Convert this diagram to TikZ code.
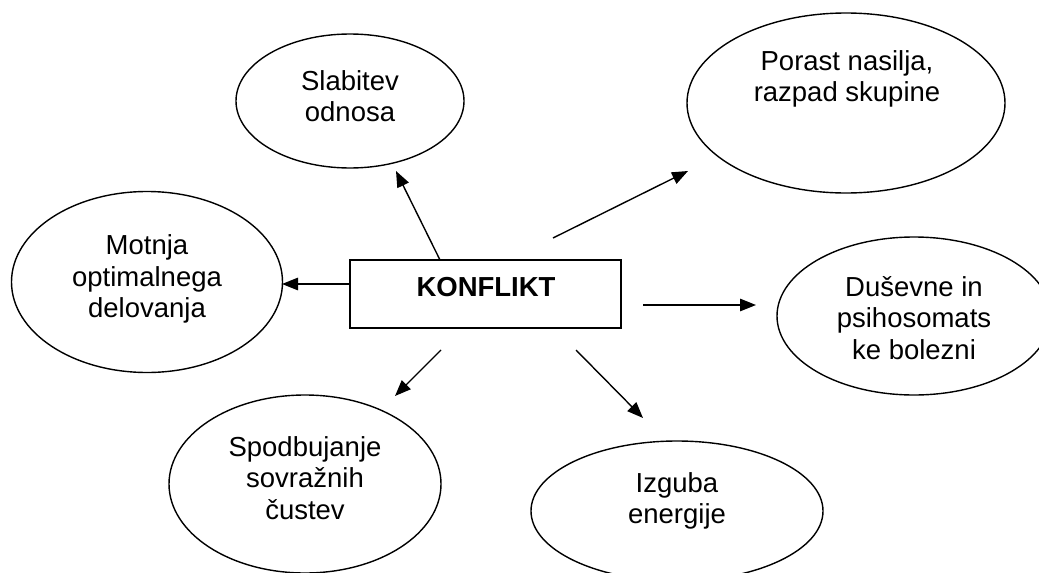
\documentclass[tikz,border=0pt]{standalone}
\usepackage{fontspec}
\setmainfont{Liberation Sans}
\usetikzlibrary{shapes.geometric,arrows.meta}
\begin{document}
\begin{tikzpicture}[x=1pt,y=-1pt,
  bubble/.style={draw,line width=1.4pt,ellipse,inner sep=0pt},
  txt/.style={align=center,font=\fontsize{27.5}{31.5}\selectfont,inner sep=0pt},
  box/.style={draw,line width=1.4pt,rectangle,inner sep=0pt},
  arr/.style={line width=1.4pt,-{Triangle[length=16pt,width=12.5pt]}}]
\useasboundingbox (0,0) rectangle (1039,573);
% ellipses
\node[bubble,minimum width=228pt,minimum height=134pt] (slab) at (350,101) {};
\node[txt] (slabt) at (350,96) {Slabitev\\odnosa};
\node[bubble,minimum width=318pt,minimum height=180pt] (por) at (846,103) {};
\node[txt] (port) at (847,79) {Porast nasilja,\\razpad skupine};
\node[bubble,minimum width=271pt,minimum height=181pt] (mot) at (147,282) {};
\node[txt] (mott) at (147,279) {Motnja\\optimalnega\\delovanja};
\node[bubble,minimum width=274pt,minimum height=158pt] (dus) at (914,316) {};
\node[txt] (dust) at (914,318) {Duševne in\\psihosomats\\ke bolezni};
\node[bubble,minimum width=272pt,minimum height=178pt] (spod) at (305,484) {};
\node[txt] (spodt) at (305,478) {Spodbujanje\\sovražnih\\čustev};
\node[bubble,minimum width=292pt,minimum height=140pt] (izg) at (677,511) {};
\node[txt] (izgt) at (677,501) {Izguba\\energije};
% central box
\node[box,minimum width=271pt,minimum height=68pt] (konf) at (485.5,294) {};
\node[txt,font=\fontsize{27.5}{31.5}\selectfont\bfseries] (konft) at (486,287) {KONFLIKT};
% arrow end points
\coordinate (a1s) at (440,260); \coordinate (a1e) at (396,171);
\coordinate (a2s) at (553,238); \coordinate (a2e) at (688,171);
\coordinate (a3s) at (350,284); \coordinate (a3e) at (282,284);
\coordinate (a4s) at (643,305); \coordinate (a4e) at (756,305);
\coordinate (a5s) at (441,350); \coordinate (a5e) at (395,396);
\coordinate (a6s) at (576,350); \coordinate (a6e) at (643,418);
\draw[arr] (a1s) -- (a1e);
\draw[arr] (a2s) -- (a2e);
\draw[arr] (a3s) -- (a3e);
\draw[arr] (a4s) -- (a4e);
\draw[arr] (a5s) -- (a5e);
\draw[arr] (a6s) -- (a6e);
\end{tikzpicture}
\end{document}
